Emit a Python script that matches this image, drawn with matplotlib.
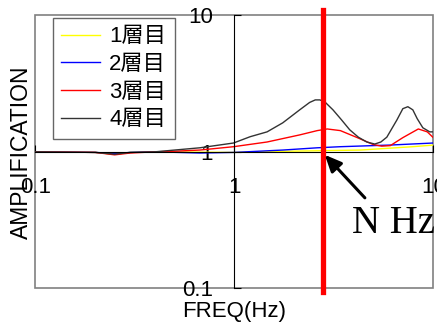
import matplotlib
matplotlib.use("Agg")
import matplotlib.pyplot as plt
from matplotlib.patches import Rectangle
from matplotlib.ticker import FixedLocator, FixedFormatter, NullLocator

plt.rcParams["font.family"] = ["Liberation Sans", "Noto Sans CJK JP"]

# data (freq in Hz, amplification)
freq_1 = [0.1, 0.2, 0.25, 0.3, 0.4, 1.0, 1.25, 4.3, 7.89, 10]
amp_1 = [1.0, 0.99, 0.96, 0.99, 1.0, 0.99, 1.0, 1.03, 1.09, 1.12]

freq_2 = [0.1, 0.2, 0.25, 0.3, 0.4, 0.67, 1.0, 1.75, 2.61, 3.41, 6.0, 10]
amp_2 = [1.0, 0.99, 0.97, 0.99, 1.0, 0.98, 0.99, 1.03, 1.07, 1.09, 1.12, 1.16]

freq_3 = [0.1, 0.2, 0.25, 0.3, 0.4, 0.5, 0.67, 0.99, 1.46, 2.13, 2.61, 2.93,
          3.41, 4.15, 4.99, 5.5, 6.08, 7.03, 8.41, 9.33, 10]
amp_3 = [1.0, 0.99, 0.95, 0.98, 1.0, 1.01, 1.03, 1.09, 1.18, 1.33, 1.43, 1.47,
         1.43, 1.27, 1.13, 1.10, 1.11, 1.27, 1.47, 1.40, 1.27]

freq_4 = [0.1, 0.2, 0.25, 0.3, 0.4, 0.5, 0.67, 0.99, 1.2, 1.46, 1.75, 2.13,
          2.39, 2.55, 2.69, 2.85, 3.13, 3.45, 3.8, 4.2, 4.63, 5.08, 5.45, 5.84,
          6.56, 7.03, 7.45, 7.89, 8.3, 8.86, 9.6, 10]
amp_4 = [1.0, 0.99, 0.96, 0.99, 1.0, 1.03, 1.07, 1.16, 1.29, 1.40, 1.63, 2.03,
         2.30, 2.40, 2.40, 2.32, 2.03, 1.72, 1.45, 1.28, 1.18, 1.14, 1.18, 1.28,
         1.71, 2.07, 2.14, 2.03, 1.75, 1.50, 1.40, 1.40]

labels = ["1層目", "2層目", "3層目", "4層目"]
colors = ["#ffff00", "#0000ff", "#ff0000", "#333333"]

tick_vals = [0.1, 1, 10]
tick_text = ["0.1", "1", "10"]

n_freq = 2.79
arrow_tip = (2.85, 0.95)
arrow_tail = (4.53, 0.46)
text_pos = (3.89, 0.254)

fig = plt.figure(figsize=(4.37, 3.27), dpi=100)
ax = fig.add_axes([0.0812, 0.1183, 0.9103, 0.8349])

ax.set_xscale("log")
ax.set_yscale("log")
ax.set_xlim(0.1, 10)
ax.set_ylim(0.1, 10)

series = [(freq_1, amp_1), (freq_2, amp_2), (freq_3, amp_3), (freq_4, amp_4)]
for (f, a), lab, c in zip(series, labels, colors):
    ax.plot(f, a, color=c, linewidth=1.0, label=lab)

# axes crossing at (1, 1)
ax.spines["left"].set_position(("data", 1))
ax.spines["bottom"].set_position(("data", 1))
ax.spines["left"].set_color("black")
ax.spines["bottom"].set_color("black")
ax.spines["top"].set_visible(False)
ax.spines["right"].set_visible(False)
ax.add_patch(Rectangle((0, 0), 1, 1, transform=ax.transAxes, fill=False,
                       edgecolor="#808080", linewidth=1.2, clip_on=False))

for axis in (ax.xaxis, ax.yaxis):
    axis.set_major_locator(FixedLocator(tick_vals))
    axis.set_major_formatter(FixedFormatter(tick_text))
    axis.set_minor_locator(NullLocator())

ax.tick_params(axis="y", direction="in", length=5, pad=15.5, labelsize=16)
ax.tick_params(axis="x", direction="in", length=5, pad=18, labelsize=16)

ax.set_xlabel("FREQ(Hz)", fontsize=16)
ax.set_ylabel("AMPLIFICATION", fontsize=16.5)
ax.xaxis.set_label_coords(0.5, -0.045)
ax.yaxis.set_label_coords(-0.006, 0.5)

leg = ax.legend(loc="upper left", bbox_to_anchor=(0.044, 0.99),
                borderaxespad=0, fontsize=16, fancybox=False,
                edgecolor="#404040", handlelength=1.75, handletextpad=0.4,
                borderpad=0.38, labelspacing=0.3)
leg.get_frame().set_linewidth(1.0)

ax.axvline(n_freq, ymin=-0.015, ymax=1.02, color="#ff0000", linewidth=3.8,
           clip_on=False, zorder=4)

ax.annotate("", xy=arrow_tip, xytext=arrow_tail,
            arrowprops=dict(arrowstyle="-|>,head_length=1.0,head_width=0.45",
                            color="black", linewidth=2.2, shrinkA=0, shrinkB=0),
            zorder=5)
ax.text(text_pos[0], text_pos[1], "N Hz", fontsize=28, va="baseline",
        ha="left", family="Liberation Serif", clip_on=False)

fig.savefig("out.png", dpi=100)
